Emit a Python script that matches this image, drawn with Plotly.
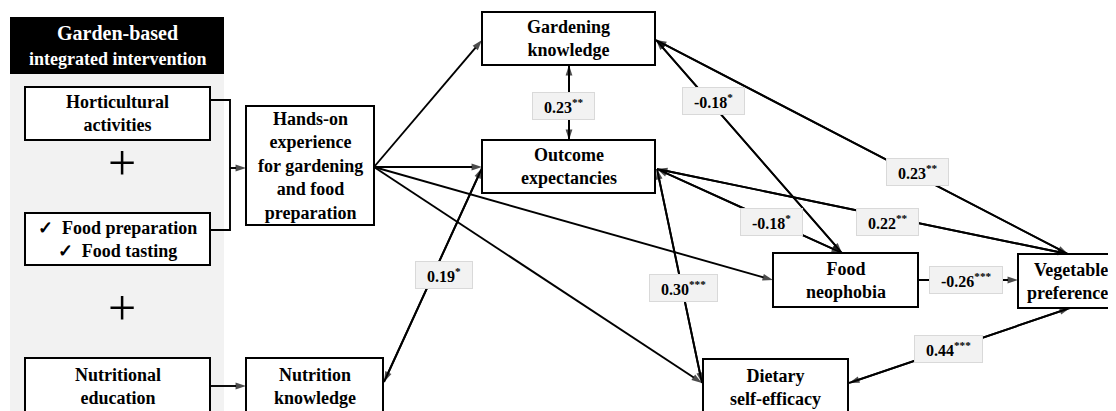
import plotly.graph_objects as go

# ---------------- data ----------------
header_lines = ["Garden-based", "integrated intervention"]
component_labels = ["Horticultural<br>activities",
                    "✓  Food preparation<br>✓  Food tasting",
                    "Nutritional<br>education"]
mediator_labels = ["Hands-on<br>experience<br>for gardening<br>and food<br>preparation",
                   "Nutrition<br>knowledge"]
outcome_labels = ["Gardening<br>knowledge", "Outcome<br>expectancies", "Food<br>neophobia",
                  "Dietary<br>self-efficacy", "Vegetable<br>preferences"]

# labelled paths (standardised coefficients and significance stars)
path_names = ["GK-OE", "GK-FN", "GK-VP", "OE-FN", "OE-VP", "FN-VP", "NK-OE", "OE-DSE", "DSE-VP"]
path_coef = [0.23, -0.18, 0.23, -0.18, 0.22, -0.26, 0.19, 0.30, 0.44]
path_sig = ["**", "*", "**", "*", "**", "***", "*", "***", "***"]

# ---------------- layout (positions / styles) ----------------
W, H = 1116, 411
OFF = 8  # page offset of the plot div
FONT = "Liberation Serif, Times New Roman, serif"

boxes = {
    "Horticultural<br>activities": (25, 87, 210, 140),
    "✓  Food preparation<br>✓  Food tasting": (25, 213, 210, 265),
    "Nutritional<br>education": (25, 358, 210, 440),
    "Hands-on<br>experience<br>for gardening<br>and food<br>preparation": (246, 106, 374, 225),
    "Nutrition<br>knowledge": (246, 358, 383, 440),
    "Gardening<br>knowledge": (482, 12, 655, 65),
    "Outcome<br>expectancies": (482, 140, 655, 193),
    "Food<br>neophobia": (773, 253, 918, 307),
    "Dietary<br>self-efficacy": (703, 359, 848, 440),
    "Vegetable<br>preferences": (1018, 254, 1130, 308),
}
text_centers = {
    "Nutritional<br>education": 386,
    "Nutrition<br>knowledge": 386,
    "Dietary<br>self-efficacy": 387,
}

# path geometry: (tail, head, double-headed?, label centre)
path_geom = {
    "GK-OE": ((569, 140), (569, 65), True, (563, 106)),
    "GK-FN": ((842, 253), (656, 40), True, (713, 101)),
    "GK-VP": ((1068, 254), (656, 40), True, (917, 172)),
    "OE-FN": ((842, 253), (657, 169), True, (771, 222)),
    "OE-VP": ((1068, 254), (657, 169), True, (887, 222)),
    "FN-VP": ((918, 280), (1018, 280), False, (966, 280)),
    "NK-OE": ((384, 382), (482, 168), True, (444, 275)),
    "OE-DSE": ((657, 169), (702, 383), True, (683, 288)),
    "DSE-VP": ((849, 383), (1070, 308), True, (948, 349)),
}
plain_arrows = [
    ((374, 167), (482, 40)),
    ((374, 167), (482, 167)),
    ((374, 167), (773, 280)),
    ((374, 167), (702, 383)),
    ((230, 168), (246, 168)),
    ((210, 386), (246, 386)),
]

LINE_W = 1.9
HEAD = 11

fig = go.Figure()
shapes = []
annotations = []


def add_arrow(tail, head):
    fig.add_trace(go.Scatter(
        x=[tail[0], head[0]], y=[tail[1], head[1]], mode="lines+markers",
        line=dict(color="black", width=LINE_W),
        marker=dict(symbol="arrow", angleref="previous", size=[0, HEAD], color="black",
                    line=dict(width=0)),
        hoverinfo="skip", showlegend=False, cliponaxis=False))


def bold_font(size, color="black"):
    return dict(family=FONT, size=size, color=color, weight="bold")


# grey panel + black header
shapes.append(dict(type="rect", x0=10, x1=224, y0=74, y1=440, xref="x", yref="y",
                   fillcolor="#f2f2f2", line=dict(width=0), layer="below"))
shapes.append(dict(type="rect", x0=10, x1=224, y0=17, y1=74, xref="x", yref="y",
                   fillcolor="black", line=dict(width=0), layer="below"))
annotations.append(dict(x=117, y=33, xref="x", yref="y", text=header_lines[0],
                        showarrow=False, font=bold_font(20, "white")))
annotations.append(dict(x=117, y=59, xref="x", yref="y", text=header_lines[1],
                        showarrow=False, font=bold_font(18, "white")))
for yy in (163, 308):
    annotations.append(dict(x=122, y=yy, xref="x", yref="y", text="+", showarrow=False,
                            font=dict(family=FONT, size=50, color="black")))

# bracket joining the first two components
fig.add_trace(go.Scatter(x=[210, 230, 230, 210], y=[100, 100, 230, 230], mode="lines",
                         line=dict(color="black", width=LINE_W), hoverinfo="skip",
                         showlegend=False))

# node boxes
for label in component_labels + mediator_labels + outcome_labels:
    x0, y0, x1, y1 = boxes[label]
    shapes.append(dict(type="rect", x0=x0, x1=x1, y0=y0, y1=y1, xref="x", yref="y",
                       fillcolor="white", line=dict(color="black", width=2), layer="below"))
    cy = text_centers.get(label, (y0 + y1) / 2)
    cx = (x0 + x1) / 2
    if label.startswith("Vegetable"):
        cx = 1071
    annotations.append(dict(x=cx, y=cy, xref="x", yref="y", text=label,
                            showarrow=False, font=bold_font(18)))

# plain arrows
for tail, head in plain_arrows:
    add_arrow(tail, head)

# labelled paths
for name in path_names:
    tail, head, both, _ = path_geom[name]
    add_arrow(tail, head)
    if both:
        add_arrow(head, tail)

NB = "\u00a0\u00a0"
for name, c, s in zip(path_names, path_coef, path_sig):
    lx, ly = path_geom[name][3]
    annotations.append(dict(x=lx, y=ly, xref="x", yref="y",
                            text=f"{NB}{c:.2f}<sup>{s}</sup>{NB}", showarrow=False,
                            font=bold_font(16),
                            bgcolor="#f2f2f2", bordercolor="#d9d9d9", borderwidth=1,
                            borderpad=3))

fig.update_layout(
    width=W, height=H, margin=dict(l=0, r=0, t=0, b=0),
    paper_bgcolor="white", plot_bgcolor="white",
    xaxis=dict(range=[OFF, W + OFF], visible=False, fixedrange=True),
    yaxis=dict(range=[H + OFF, OFF], visible=False, fixedrange=True),
    shapes=shapes, annotations=annotations, showlegend=False,
)
fig.write_html("out.html")
